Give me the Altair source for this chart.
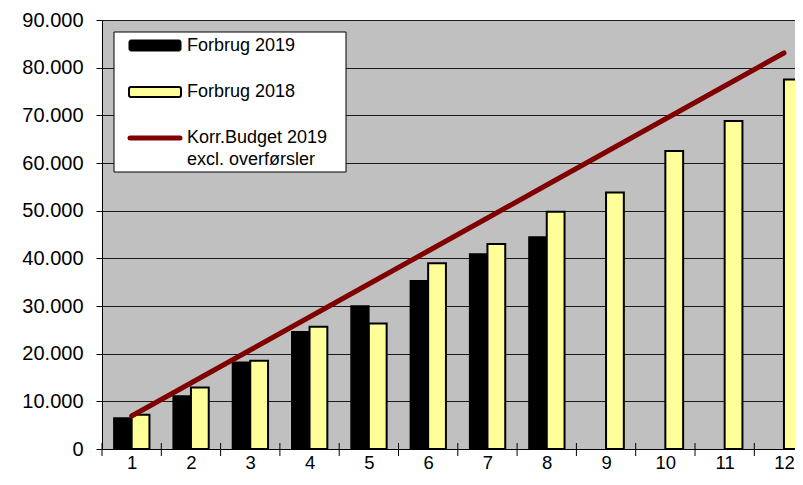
import altair as alt
import pandas as pd

# ---- data ----
months = [1, 2, 3, 4, 5, 6, 7, 8, 9, 10, 11, 12]
forbrug_2019 = [6500, 11100, 18200, 24600, 30000, 35300, 40900, 44500]
forbrug_2018 = [7200, 12900, 18500, 25650, 26350, 38950, 43000, 49750,
                53800, 62500, 68800, 77500]
budget_2019 = [6920, 13850, 20770, 27690, 34620, 41540, 48460, 55390,
               62310, 69230, 76160, 83080]
y_ticks = [0, 10000, 20000, 30000, 40000, 50000, 60000, 70000, 80000, 90000]
band_edges = [0.5, 1.5, 2.5, 3.5, 4.5, 5.5, 6.5, 7.5, 8.5, 9.5, 10.5, 11.5]
legend_labels = ["Forbrug 2019", "Forbrug 2018", "Korr.Budget 2019", "excl. overførsler"]

# ---- styling ----
W, H = 693, 429
FONT = "Liberation Sans"
YELLOW = "#FFFF99"
DARKRED = "#800000"

x_scale = alt.Scale(domain=[0.5, 0.5 + W / 59.3], nice=False, zero=False)
y_scale = alt.Scale(domain=[0, 90000], nice=False)

x_axis = alt.Axis(values=months, title=None, grid=False, ticks=False, tickSize=0,
                  labelFontSize=18.5, labelFont=FONT, labelColor="black",
                  labelPadding=4, labelFlush=False, labelOverlap=False,
                  domainColor="black", domainWidth=1)
y_axis = alt.Axis(values=y_ticks, title=None, grid=True, gridColor="#1a1a1a",
                  gridWidth=1, tickColor="black", tickSize=6, tickWidth=1,
                  labelFontSize=20, labelFont=FONT, labelColor="black",
                  labelPadding=13, labelFlush=False, labelOverlap=False,
                  domainColor="black", domainWidth=1,
                  labelExpr="replace(format(datum.value, ','), ',', '.')")

df19 = pd.DataFrame({"month": months[:len(forbrug_2019)], "value": forbrug_2019})
df18 = pd.DataFrame({"month": months, "value": forbrug_2018})
dfb = pd.DataFrame({"month": months, "value": budget_2019})
dfe = pd.DataFrame({"edge": band_edges})
dummy = pd.DataFrame({"a": [0]})

bars19 = alt.Chart(df19).transform_calculate(
    x0="datum.month - 0.3", x1="datum.month"
).mark_bar(fill="black", stroke="black", strokeWidth=1.5, clip=True).encode(
    x=alt.X("x0:Q", scale=x_scale, axis=x_axis),
    x2="x1:Q",
    y=alt.Y("value:Q", scale=y_scale, axis=y_axis),
    y2=alt.datum(0),
)

bars18 = alt.Chart(df18).transform_calculate(
    x0="datum.month", x1="datum.month + 0.3"
).mark_bar(fill=YELLOW, stroke="black", strokeWidth=2, clip=True).encode(
    x=alt.X("x0:Q", scale=x_scale, axis=x_axis),
    x2="x1:Q",
    y=alt.Y("value:Q", scale=y_scale, axis=y_axis),
    y2=alt.datum(0),
)

budget = alt.Chart(dfb).mark_line(color=DARKRED, strokeWidth=5, strokeCap="round").encode(
    x=alt.X("month:Q", scale=x_scale, axis=x_axis),
    y=alt.Y("value:Q", scale=y_scale, axis=y_axis),
)

edge_ticks = alt.Chart(dfe).mark_rule(color="black", strokeWidth=1).encode(
    x=alt.X("edge:Q", scale=x_scale, axis=x_axis),
    y=alt.value(H - 6),
    y2=alt.value(H + 7),
)

# ---- manual legend ----
leg_box = alt.Chart(dummy).mark_rect(fill="white", stroke="black", strokeWidth=1).encode(
    x=alt.value(12), x2=alt.value(244), y=alt.value(12), y2=alt.value(152))
leg_black = alt.Chart(dummy).mark_rect(fill="black", stroke="black", strokeWidth=1,
                                       cornerRadius=2).encode(
    x=alt.value(27), x2=alt.value(79), y=alt.value(20), y2=alt.value(31))
leg_yellow = alt.Chart(dummy).mark_rect(fill=YELLOW, stroke="black", strokeWidth=2,
                                        cornerRadius=2).encode(
    x=alt.value(27), x2=alt.value(79), y=alt.value(67), y2=alt.value(77))
leg_line = alt.Chart(dummy).mark_rule(color=DARKRED, strokeWidth=5, strokeCap="round").encode(
    x=alt.value(28), x2=alt.value(78), y=alt.value(118))

def leg_text(txt, y):
    return alt.Chart(dummy).mark_text(align="left", baseline="middle", font=FONT,
                                      fontSize=18, color="black").encode(
        x=alt.value(85), y=alt.value(y), text=alt.value(txt))

chart = alt.layer(
    bars19, bars18, budget, edge_ticks,
    leg_box, leg_black, leg_yellow, leg_line,
    leg_text(legend_labels[0], 26),
    leg_text(legend_labels[1], 72),
    leg_text(legend_labels[2], 118),
    leg_text(legend_labels[3], 140),
).properties(
    width=W, height=H,
    autosize=alt.AutoSizeParams(type="none"),
    padding={"left": 94, "top": 12, "right": 0, "bottom": 22},
    background="white",
).configure_view(
    fill="#C0C0C0", stroke="#808080", strokeWidth=1
)

chart.save("out.html", embed_options={"renderer": "svg", "actions": False})
